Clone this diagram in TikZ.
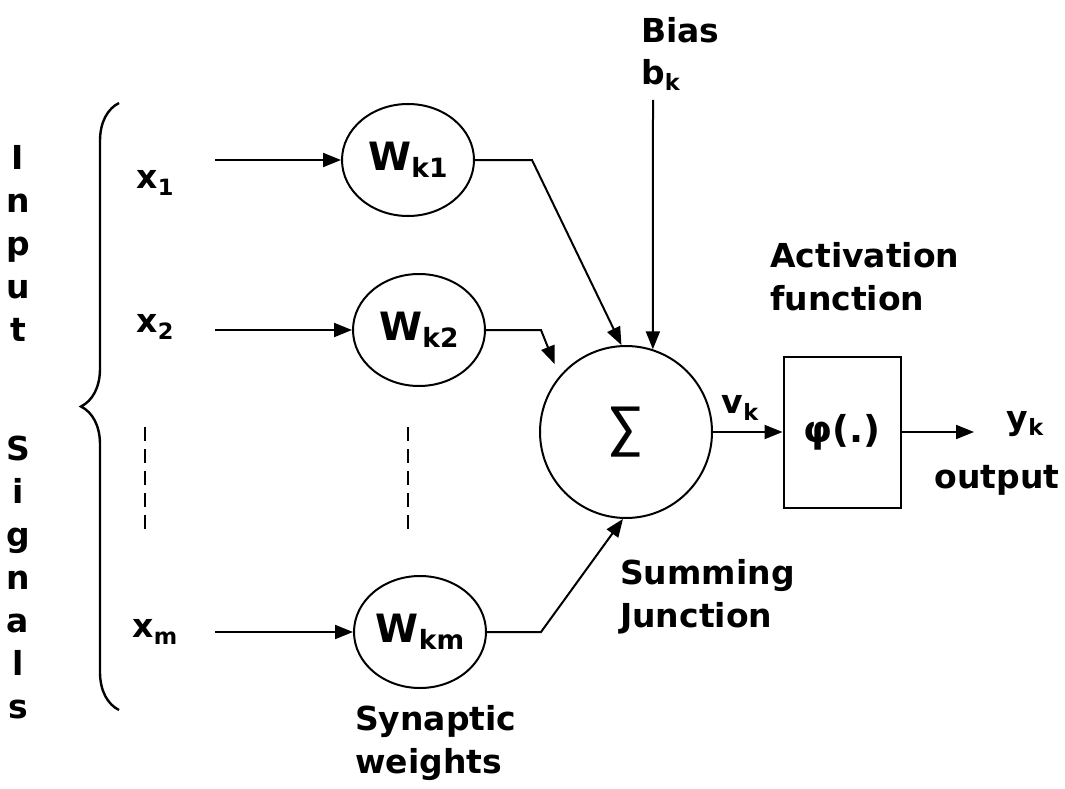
\documentclass[tikz,border=0pt]{standalone}
\usepackage{fontspec}
\usepackage{graphicx}
\setmainfont{DejaVu Sans}
\newfontfamily\sumfont{Carlito}
\usetikzlibrary{shapes.geometric,arrows.meta,decorations.pathreplacing}
\newcommand\sbs[1]{\raisebox{-0.35ex}{\scalebox{0.68}{#1}}}

\begin{document}
\begin{tikzpicture}[x=1pt,y=-1pt,
    lbl/.style={font=\fontsize{33}{38}\selectfont\bfseries,inner sep=0pt},
    vert/.style={lbl,align=center,font=\fontsize{33}{43}\selectfont\bfseries},
    wgt/.style={ellipse,draw,line width=2pt,minimum width=132pt,minimum height=112pt,inner sep=0pt,font=\fontsize{39}{44}\selectfont\bfseries},
    arr/.style={line width=2pt,-{Triangle[length=18pt,width=14pt]}},
    wire/.style={line width=2pt}]
\useasboundingbox (0,0) rectangle (1065,789);
% input side
\node[vert] (inp) at (18,243) {I\\n\\p\\u\\t};
\node[vert] (sig) at (18,577) {S\\i\\g\\n\\a\\l\\s};
\coordinate (brb) at (119,710);
\coordinate (brt) at (119,103);
\draw[wire,line width=2.4pt,decorate,decoration={brace,amplitude=38pt}] (brb) -- (brt);
\node[lbl] (x1) at (155,183) {x\sbs{1}};
\node[lbl] (x2) at (155,327) {x\sbs{2}};
\node[lbl] (xm) at (155,632) {x\sbs{m}};
\draw[wire,line width=1.6pt,dash pattern=on 14pt off 8pt] (145,427) -- (145,537);
% weights
\node[wgt] (w1) at (408,160) {W\sbs{k1}};
\node[wgt] (w2) at (419,330) {W\sbs{k2}};
\node[wgt] (w3) at (420,632) {W\sbs{km}};
\draw[wire,line width=1.6pt,dash pattern=on 14pt off 8pt] (408,427) -- (408,537);
\coordinate (s1) at (215,160);
\coordinate (s2) at (215,330);
\coordinate (s3) at (215,632);
\draw[arr] (s1) -- (w1);
\draw[arr] (s2) -- (w2);
\draw[arr] (s3) -- (w3);
\node[lbl,anchor=west] (syn) at (355,722) {Synaptic};
\node[lbl,anchor=west] (wts) at (355,765) {weights};
% summing junction
\node[circle,draw,line width=2pt,minimum size=172pt,inner sep=0pt] (sum) at (626,432)
  {\sumfont\fontsize{60}{60}\selectfont ∑};
\draw[arr] (w1.east) -- ++(57,0) -- (sum.93);
\draw[arr,shorten >=13pt] (w2.east) -- ++(55,0) -- (sum.140);
\draw[arr] (w3.east) -- ++(54,0) -- (sum.268);
\node[lbl,anchor=west] (bias) at (641,30) {Bias};
\node[lbl,anchor=west] (bk) at (641,75) {b\sbs{k}};
\coordinate (btop) at (653,100);
\draw[arr] (btop) -- (sum.72);
\node[lbl,anchor=west] (summ) at (620,576) {Summing};
\node[lbl,anchor=west] (junc) at (620,618) {Junction};
% activation
\node[draw,line width=2pt,minimum width=117pt,minimum height=151pt,inner sep=0pt,
  font=\fontsize{37}{40}\selectfont\bfseries] (act) at (842,432) {φ(.)};
\draw[arr] (sum) -- (act);
\node[lbl] (vk) at (740,408) {v\sbs{k}};
\node[lbl,anchor=west] (actl) at (770,255) {Activation};
\node[lbl,anchor=west] (fun) at (770,298) {function};
\coordinate (yend) at (974,432);
\draw[arr] (act) -- (yend);
\node[lbl] (yk) at (1025,424) {y\sbs{k}};
\node[lbl] (outl) at (997,480) {output};
\end{tikzpicture}
\end{document}
